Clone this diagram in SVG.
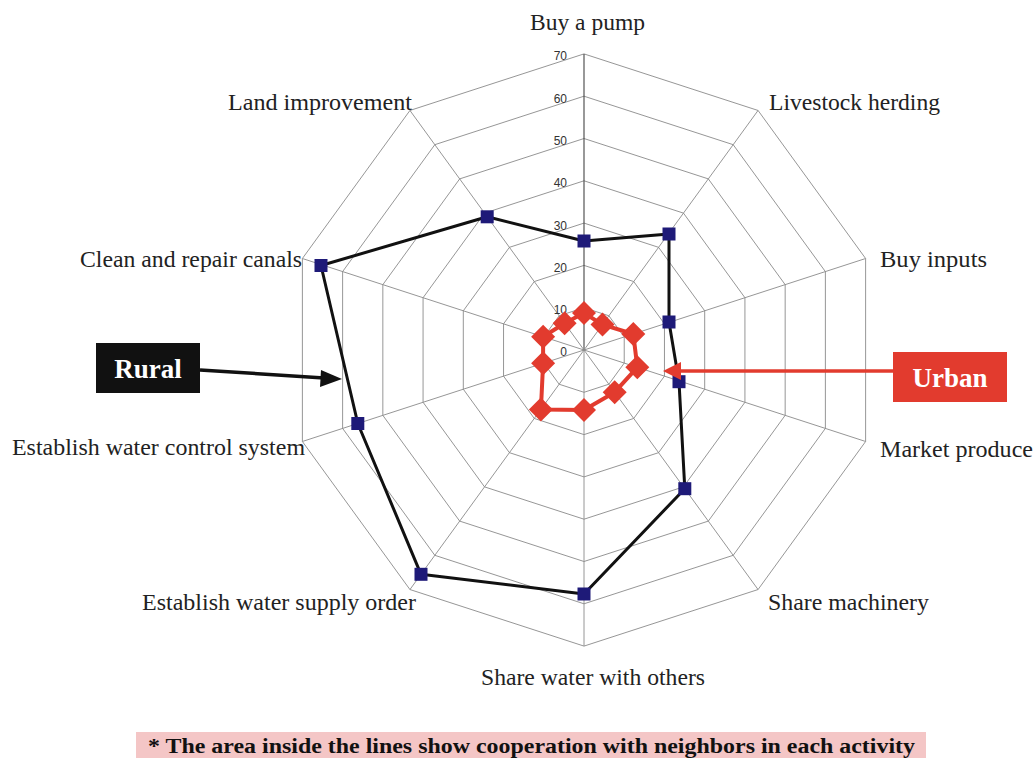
<svg xmlns="http://www.w3.org/2000/svg" width="1035" height="758" viewBox="0 0 1035 758">
<style>
.ring{fill:none;stroke:#8a8a8a;stroke-width:0.9}
.axis{stroke:#8a8a8a;stroke-width:0.9}
.axis0{stroke:#444;stroke-width:1.1}
.lbl{font-family:"Liberation Serif","Times New Roman",serif;font-size:23px;fill:#222}
.tick{font-family:"Liberation Sans",Arial,sans-serif;font-size:12px;fill:#333;text-anchor:end}
.rural{fill:none;stroke:#111;stroke-width:3;stroke-linejoin:round}
.urban{fill:none;stroke:#E23B2E;stroke-width:4;stroke-linejoin:round}
.boxtxt{font-family:"Liberation Serif","Times New Roman",serif;font-size:27px;font-weight:bold;fill:#fff;text-anchor:middle}
.note{font-family:"Liberation Serif","Times New Roman",serif;font-size:20px;font-weight:bold;fill:#111}
</style>
<defs>
<rect id="sq" x="-6.5" y="-6.5" width="13" height="13" fill="#1E1A78"/>
<polygon id="dm" points="0,-12 12,0 0,12 -12,0" fill="#E23B2E"/>
</defs>
<rect width="1035" height="758" fill="#fff"/>
<g id="grid">
<polygon class="ring" points="584,307.7 608.86,315.78 624.23,336.93 624.23,363.07 608.86,384.22 584,392.3 559.14,384.22 543.77,363.07 543.77,336.93 559.14,315.78"/>
<polygon class="ring" points="584,265.4 633.73,281.56 664.46,323.86 664.46,376.14 633.73,418.44 584,434.6 534.27,418.44 503.54,376.14 503.54,323.86 534.27,281.56"/>
<polygon class="ring" points="584,223.1 658.59,247.34 704.69,310.79 704.69,389.21 658.59,452.66 584,476.9 509.41,452.66 463.31,389.21 463.31,310.79 509.41,247.34"/>
<polygon class="ring" points="584,180.8 683.46,213.12 744.93,297.72 744.93,402.28 683.46,486.88 584,519.2 484.54,486.88 423.07,402.28 423.07,297.72 484.54,213.12"/>
<polygon class="ring" points="584,138.5 708.32,178.9 785.16,284.65 785.16,415.35 708.32,521.1 584,561.5 459.68,521.1 382.84,415.35 382.84,284.65 459.68,178.9"/>
<polygon class="ring" points="584,96.2 733.18,144.68 825.39,271.58 825.39,428.42 733.18,555.32 584,603.8 434.82,555.32 342.61,428.42 342.61,271.58 434.82,144.68"/>
<polygon class="ring" points="584,53.9 758.05,110.46 865.62,258.51 865.62,441.49 758.05,589.54 584,646.1 409.95,589.54 302.38,441.49 302.38,258.51 409.95,110.46"/>
<line class="axis0" x1="584" y1="350" x2="584" y2="53.9"/>
<line class="axis" x1="584" y1="350" x2="758.05" y2="110.46"/>
<line class="axis" x1="584" y1="350" x2="865.62" y2="258.51"/>
<line class="axis" x1="584" y1="350" x2="865.62" y2="441.49"/>
<line class="axis" x1="584" y1="350" x2="758.05" y2="589.54"/>
<line class="axis" x1="584" y1="350" x2="584" y2="646.1"/>
<line class="axis" x1="584" y1="350" x2="409.95" y2="589.54"/>
<line class="axis" x1="584" y1="350" x2="302.38" y2="441.49"/>
<line class="axis" x1="584" y1="350" x2="302.38" y2="258.51"/>
<line class="axis" x1="584" y1="350" x2="409.95" y2="110.46"/>
</g>
<g id="ticks">
<text class="tick" x="567" y="356">0</text>
<text class="tick" x="567" y="314">10</text>
<text class="tick" x="567" y="271.5">20</text>
<text class="tick" x="567" y="229.5">30</text>
<text class="tick" x="567" y="187">40</text>
<text class="tick" x="567" y="145">50</text>
<text class="tick" x="567" y="102.5">60</text>
<text class="tick" x="567" y="60">70</text>
</g>
<g id="labels">
<text class="lbl" x="530" y="30" textLength="115" lengthAdjust="spacingAndGlyphs">Buy a pump</text>
<text class="lbl" x="769" y="110" textLength="171" lengthAdjust="spacingAndGlyphs">Livestock herding</text>
<text class="lbl" x="880" y="267" textLength="107" lengthAdjust="spacingAndGlyphs">Buy inputs</text>
<text class="lbl" x="880" y="457" textLength="153" lengthAdjust="spacingAndGlyphs">Market produce</text>
<text class="lbl" x="768" y="610" textLength="161" lengthAdjust="spacingAndGlyphs">Share machinery</text>
<text class="lbl" x="481" y="685" textLength="224" lengthAdjust="spacingAndGlyphs">Share water with others</text>
<text class="lbl" x="142" y="610" textLength="274" lengthAdjust="spacingAndGlyphs">Establish water supply order</text>
<text class="lbl" x="12" y="455" textLength="293" lengthAdjust="spacingAndGlyphs">Establish water control system</text>
<text class="lbl" x="80" y="267" textLength="222" lengthAdjust="spacingAndGlyphs">Clean and repair canals</text>
<text class="lbl" x="228" y="110" textLength="184" lengthAdjust="spacingAndGlyphs">Land improvement</text>
</g>
<g id="rural-series">
<polygon class="rural" points="584,241 669,234 669,322 679,381.7 684.8,488.7 584,594 421,574.3 357.8,423.5 321,265.5 487.2,216.8"/>
<use href="#sq" x="584" y="241"/>
<use href="#sq" x="669" y="234"/>
<use href="#sq" x="669" y="322"/>
<use href="#sq" x="679" y="381.7"/>
<use href="#sq" x="684.8" y="488.7"/>
<use href="#sq" x="584" y="594"/>
<use href="#sq" x="421" y="574.3"/>
<use href="#sq" x="357.8" y="423.5"/>
<use href="#sq" x="321" y="265.5"/>
<use href="#sq" x="487.2" y="216.8"/>
</g>
<g id="urban-series">
<polygon class="urban" points="584,313 602.5,324.6 633.3,334 637.3,367.3 614.7,392.2 584,410 540.9,409.4 543.1,363.3 543.1,336.7 564.6,323.3"/>
<use href="#dm" x="584" y="313"/>
<use href="#dm" x="602.5" y="324.6"/>
<use href="#dm" x="633.3" y="334"/>
<use href="#dm" x="637.3" y="367.3"/>
<use href="#dm" x="614.7" y="392.2"/>
<use href="#dm" x="584" y="410"/>
<use href="#dm" x="540.9" y="409.4"/>
<use href="#dm" x="543.1" y="363.3"/>
<use href="#dm" x="543.1" y="336.7"/>
<use href="#dm" x="564.6" y="323.3"/>
</g>
<g id="connectors">
<line x1="200" y1="370" x2="324" y2="378" stroke="#111" stroke-width="3.5"/>
<polygon points="342,379 321,370 320,387" fill="#111"/>
<line x1="893" y1="371" x2="678" y2="371" stroke="#E23B2E" stroke-width="3.5"/>
<polygon points="663,371 681,362 681,380" fill="#E23B2E"/>
</g>
<g id="rural-box">
<rect x="96" y="343" width="104" height="50" fill="#111"/>
<text class="boxtxt" x="148" y="378">Rural</text>
</g>
<g id="urban-box">
<rect x="893" y="352" width="114" height="50" fill="#E23B2E"/>
<text class="boxtxt" x="950" y="387">Urban</text>
</g>
<g id="footnote">
<rect x="136" y="732" width="790" height="26" fill="#F4C6C6"/>
<text class="note" x="148" y="753" textLength="767" lengthAdjust="spacingAndGlyphs">* The area inside the lines show cooperation with neighbors in each activity</text>
</g>
</svg>
